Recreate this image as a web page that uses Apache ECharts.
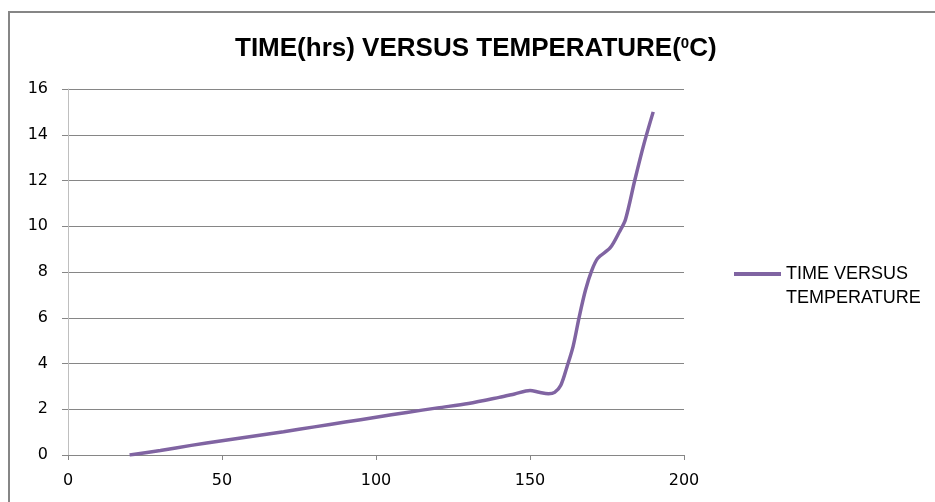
<!DOCTYPE html>
<html>
<head>
<meta charset="utf-8">
<script src="https://cdn.jsdelivr.net/npm/echarts@6/dist/echarts.min.js"></script>
<style>
  html, body { margin: 0; padding: 0; background: #fff; }
  #chartDiv { width: 935px; height: 502px; }
</style>
</head>
<body>
<div id="chartDiv"></div>
<script>
// temperature (deg C) and time (hrs)
var temps = [20, 30, 40, 50, 60, 70, 80, 90, 100, 110, 120, 130, 140, 145, 150, 153, 156, 158, 160, 162, 164, 166, 168, 170, 172, 176, 179, 181, 184, 187, 190];
var hours = [0, 0.2, 0.42, 0.62, 0.82, 1.02, 1.23, 1.44, 1.65, 1.86, 2.06, 2.25, 2.52, 2.67, 2.82, 2.74, 2.68, 2.74, 3.05, 3.85, 4.75, 6.05, 7.2, 8.05, 8.6, 9.05, 9.75, 10.3, 12.0, 13.6, 15.0];
var yTicks = [0, 2, 4, 6, 8, 10, 12, 14, 16];
var xTicks = [0, 50, 100, 150, 200];
var seriesName = 'TIME VERSUS TEMPERATURE';

function chartDiv(){
  var data = [];
  for (var i = 0; i < temps.length; i++) {
    data.push([temps[i], hours[i]]);
  }
  var option = {
    animation: false,
    backgroundColor: '#fff',
    title: {
      left: 235,
      top: 36,
      padding: 0,
      text: 'TIME(hrs) VERSUS TEMPERATURE({s|0}C)',
      textStyle: {
        fontFamily: 'Liberation Sans',
        fontWeight: 'bold',
        fontSize: 26,
        color: '#000',
        rich: {
          s: { fontFamily: 'Liberation Sans', fontWeight: 'bold', fontSize: 15, verticalAlign: 'top', padding: [0, 0, 10, 0] }
        }
      }
    },
    legend: {
      left: 734,
      top: 238,
      padding: 0,
      itemWidth: 47,
      itemHeight: 4,
      data: [{ name: seriesName, icon: 'rect', itemStyle: { color: '#8064A2' } }],
      formatter: function(){ return ' \nTIME VERSUS\nTEMPERATURE'; },
      textStyle: {
        fontFamily: 'Liberation Sans',
        fontSize: 18,
        lineHeight: 24,
        color: '#000'
      }
    },
    grid: { left: 68, right: 251, top: 89, bottom: 47 },
    xAxis: {
      type: 'value',
      min: xTicks[0],
      max: xTicks[xTicks.length - 1],
      interval: 50,
      axisLine: { show: true, lineStyle: { color: '#868686', width: 1 } },
      axisTick: { show: true, length: 5, lineStyle: { color: '#868686' } },
      axisLabel: { margin: 18, fontFamily: 'DejaVu Sans', fontSize: 16, color: '#000' },
      splitLine: { show: false }
    },
    yAxis: {
      type: 'value',
      min: yTicks[0],
      max: yTicks[yTicks.length - 1],
      interval: 2,
      axisLine: { show: true, lineStyle: { color: '#BFBFBF', width: 1 } },
      axisTick: { show: true, length: 6, lineStyle: { color: '#868686' } },
      axisLabel: { margin: 20, fontFamily: 'DejaVu Sans', fontSize: 16, color: '#000' },
      splitLine: { show: true, lineStyle: { color: '#868686', width: 1 } }
    },
    graphic: [{
      type: 'polyline',
      shape: { points: [[9, 502], [9, 12], [935, 12]] },
      style: { stroke: '#868686', lineWidth: 2, fill: null }
    }],
    series: [{
      name: seriesName,
      type: 'line',
      data: data,
      smooth: 0.3,
      showSymbol: false,
      lineStyle: { color: '#8064A2', width: 3.5 },
      itemStyle: { color: '#8064A2' }
    }]
  };
  var myCharts1 = echarts.init(document.getElementById('chartDiv'));
  myCharts1.setOption(option, true);
}
chartDiv();
</script>
</body>
</html>
